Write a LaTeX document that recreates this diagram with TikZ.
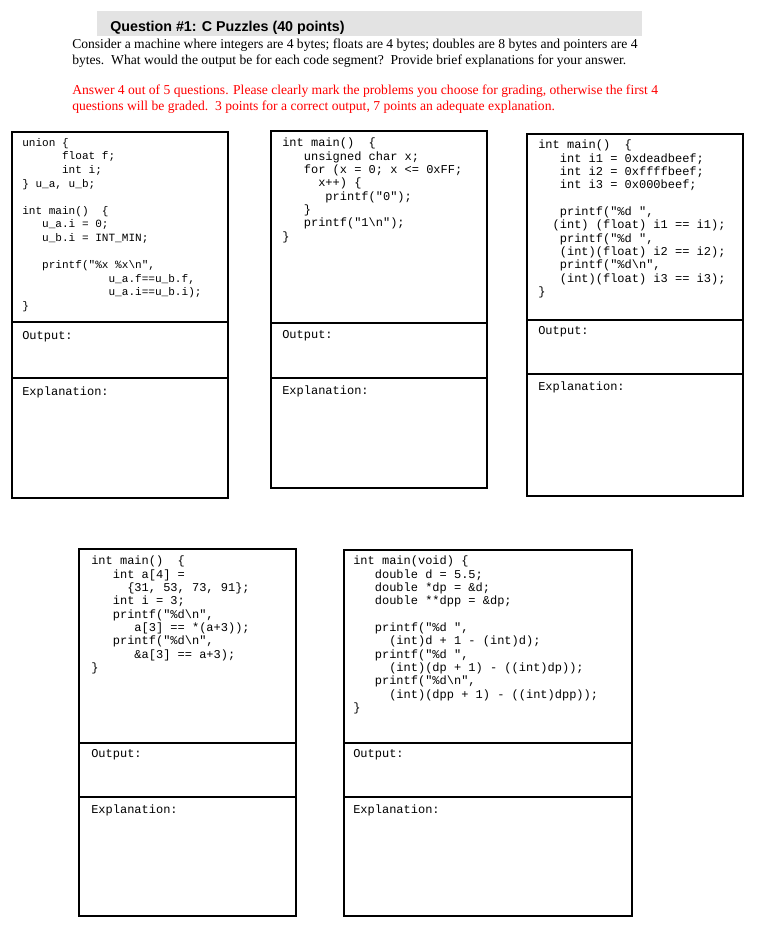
\documentclass[tikz,border=0pt]{standalone}
\usepackage{fontspec}
\setmainfont{Liberation Serif}
\setsansfont{Liberation Sans}
\setmonofont{Liberation Mono}
\newcommand\ind[1]{\hspace*{#1\dimexpr 0.6em\relax}}
\begin{document}
\begin{tikzpicture}[x=0.75pt,y=-0.75pt]
\tikzset{
  qbox/.style={draw=black,line width=0.9pt},
  code/.style={anchor=north west,inner sep=0pt,align=left,font=\ttfamily\fontsize{9}{10}\selectfont},
  codes/.style={anchor=north west,inner sep=0pt,align=left,font=\ttfamily\fontsize{8.3}{10.2}\selectfont},
  lbl/.style={anchor=west,inner sep=0pt,font=\ttfamily\fontsize{9}{10}\selectfont},
  body/.style={anchor=north west,inner sep=0pt,align=left,font=\fontsize{10.2}{11.5}\selectfont}
}
\useasboundingbox (0,0) rectangle (763,928);
\fill[white] (0,0) rectangle (763,928);
\fill[black!11] (97,11) rectangle (642,36);
\node[anchor=west,inner sep=0pt,font=\sffamily\bfseries\fontsize{10.7}{12}\selectfont] (title) at (110,28) {Question \#1: C Puzzles (40 points)};
\node[body] (intro) at (72,39) {Consider a machine where integers are 4 bytes; floats are 4 bytes; doubles are 8 bytes and pointers are 4\\bytes.\ \ What would the output be for each code segment?\ \ Provide brief explanations for your answer.};
\node[body,text=red] (rules) at (72,85) {Answer 4 out of 5 questions. Please clearly mark the problems you choose for grading, otherwise the first 4\\questions will be graded.\ \ 3 points for a correct output, 7 points an adequate explanation.};

% Box 1
\draw[qbox] (12,132) rectangle (228,498);
\draw[qbox] (12,322) -- (228,322);
\draw[qbox] (12,378) -- (228,378);
\node[codes] (c1) at (22,138) {union \{\\\ind{6}float f;\\\ind{6}int i;\\\} u\_a, u\_b;\\[10.2pt]int main()\ \ \{\\\ind{3}u\_a.i = 0;\\\ind{3}u\_b.i = INT\_MIN;\\[10.2pt]\ind{3}printf("\%x \%x\textbackslash n",\\\ind{13}u\_a.f==u\_b.f,\\\ind{13}u\_a.i==u\_b.i);\\\}};
\node[lbl] (o1) at (22,337) {Output:};
\node[lbl] (e1) at (22,392) {Explanation:};

% Box 2
\draw[qbox] (271,131) rectangle (487,488);
\draw[qbox] (271,323) -- (487,323);
\draw[qbox] (271,378) -- (487,378);
\node[code] (c2) at (282,138) {int main()\ \ \{\\\ind{3}unsigned char x;\\\ind{3}for (x = 0; x <= 0xFF;\\\ind{5}x++) \{\\\ind{6}printf("0");\\\ind{3}\}\\\ind{3}printf("1\textbackslash n");\\\}};
\node[lbl] (o2) at (282,336) {Output:};
\node[lbl] (e2) at (282,391) {Explanation:};

% Box 3
\draw[qbox] (527,134) rectangle (743,496);
\draw[qbox] (527,320) -- (743,320);
\draw[qbox] (527,374) -- (743,374);
\node[code] (c3) at (538,140) {int main()\ \ \{\\\ind{3}int i1 = 0xdeadbeef;\\\ind{3}int i2 = 0xffffbeef;\\\ind{3}int i3 = 0x000beef;\\[10pt]\ind{3}printf("\%d ",\\\ind{2}(int) (float) i1 == i1);\\\ind{3}printf("\%d ",\\\ind{3}(int)(float) i2 == i2);\\\ind{3}printf("\%d\textbackslash n",\\\ind{3}(int)(float) i3 == i3);\\\}};
\node[lbl] (o3) at (538,332) {Output:};
\node[lbl] (e3) at (538,387) {Explanation:};

% Box 4
\draw[qbox] (79,549) rectangle (296,916);
\draw[qbox] (79,743) -- (296,743);
\draw[qbox] (79,797) -- (296,797);
\node[code] (c4) at (91,556) {int main()\ \ \{\\\ind{3}int a[4] =\\\ind{5}\{31, 53, 73, 91\};\\\ind{3}int i = 3;\\\ind{3}printf("\%d\textbackslash n",\\\ind{6}a[3] == *(a+3));\\\ind{3}printf("\%d\textbackslash n",\\\ind{6}\&a[3] == a+3);\\\}};
\node[lbl] (o4) at (91,755) {Output:};
\node[lbl] (e4) at (91,810) {Explanation:};

% Box 5
\draw[qbox] (344,550) rectangle (632,916);
\draw[qbox] (344,743) -- (632,743);
\draw[qbox] (344,797) -- (632,797);
\node[code] (c5) at (353,556) {int main(void) \{\\\ind{3}double d = 5.5;\\\ind{3}double *dp = \&d;\\\ind{3}double **dpp = \&dp;\\[10pt]\ind{3}printf("\%d ",\\\ind{5}(int)d + 1 - (int)d);\\\ind{3}printf("\%d ",\\\ind{5}(int)(dp + 1) - ((int)dp));\\\ind{3}printf("\%d\textbackslash n",\\\ind{5}(int)(dpp + 1) - ((int)dpp));\\\}};
\node[lbl] (o5) at (353,755) {Output:};
\node[lbl] (e5) at (353,810) {Explanation:};
\end{tikzpicture}
\end{document}
